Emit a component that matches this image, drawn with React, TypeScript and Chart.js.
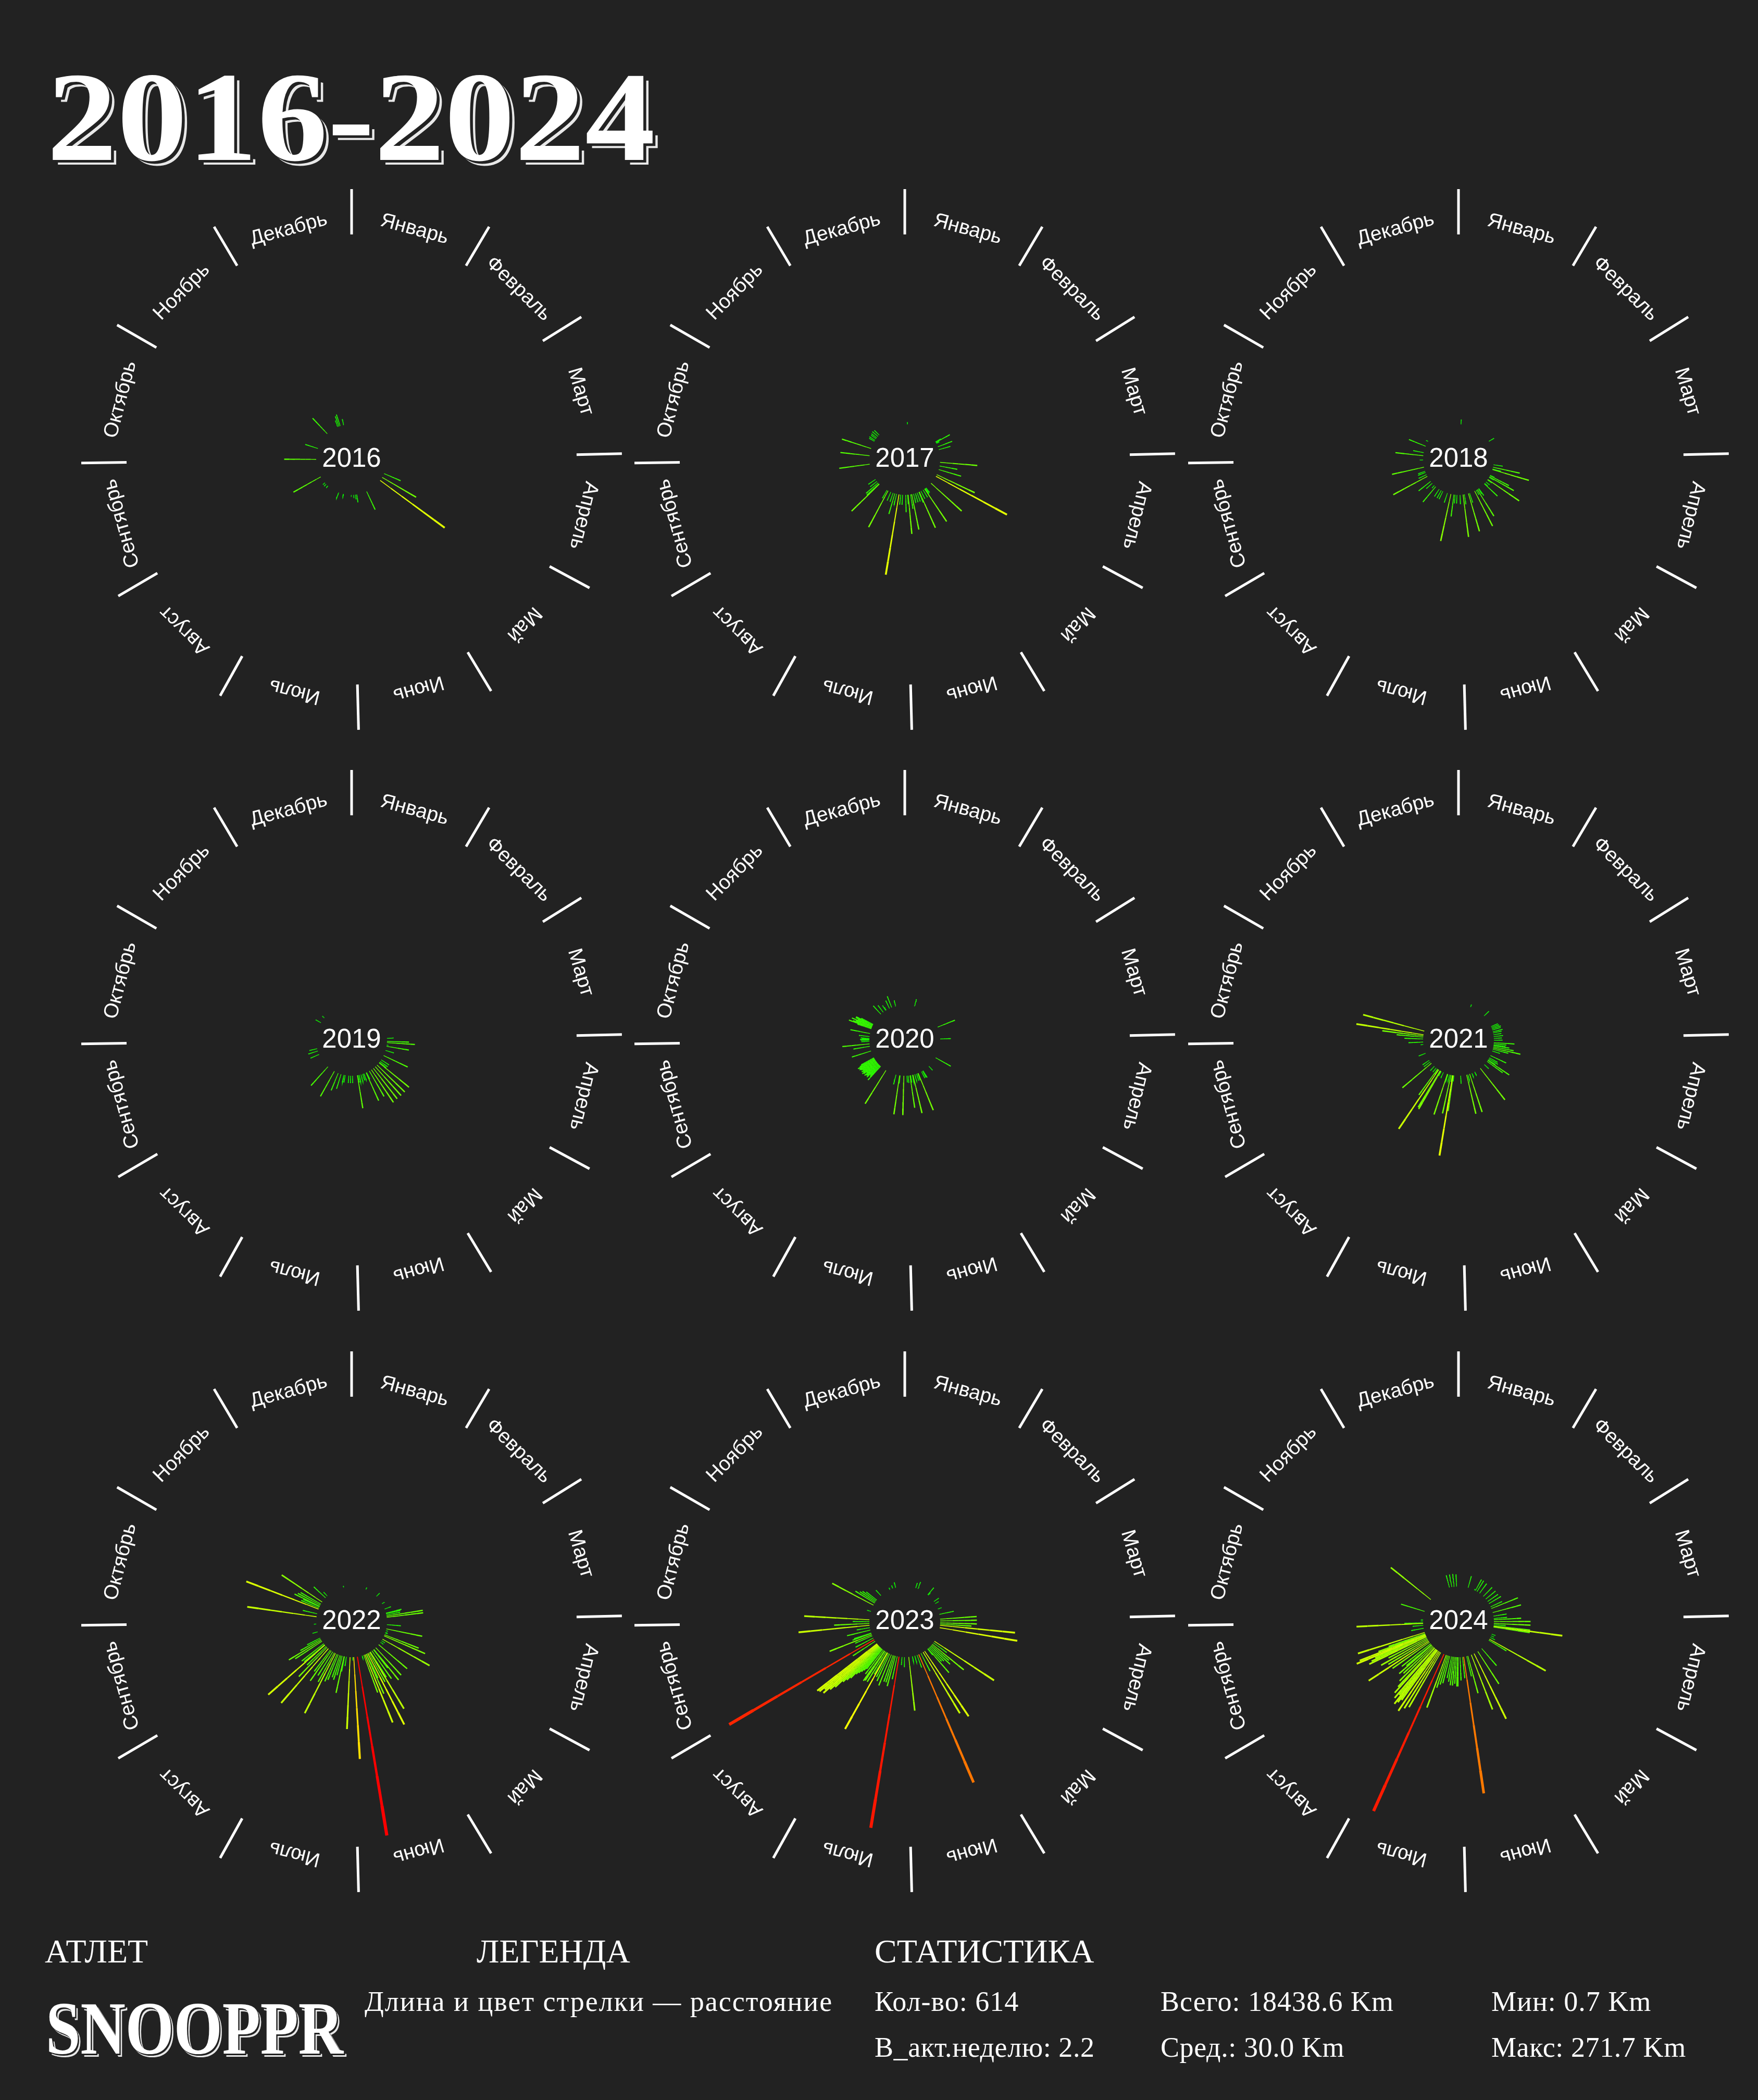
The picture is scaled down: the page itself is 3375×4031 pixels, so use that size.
import React, { useEffect, useRef } from "react";
import { Chart, registerables } from "chart.js";

Chart.register(...registerables);

// ---------- labels ----------
const MONTH_NAMES = ["Январь", "Февраль", "Март", "Апрель", "Май", "Июнь", "Июль", "Август", "Сентябрь", "Октябрь", "Ноябрь", "Декабрь"];
const MONTH_START_DAY = [0, 31, 59, 90, 120, 151, 181, 212, 243, 273, 304, 334, 365];
const YEARS = [2016, 2017, 2018, 2019, 2020, 2021, 2022, 2023, 2024];

// ---------- data: day of year / distance (km) ----------
const days2016 = [115, 122, 128, 157, 174, 176, 179, 183, 196, 204, 225, 229, 232, 244, 274, 292, 321, 342, 344, 346, 352];
const km2016 = [27, 59, 120, 30, 12, 7, 5, 3, 3, 9, 3, 4, 4, 47, 48, 20, 32, 10, 16, 18, 9];

const days2017 = [4, 61, 62, 63, 64, 70, 75, 96, 102, 108, 117, 120, 134, 145, 146, 147, 148, 151, 155, 158, 159, 162, 165, 168, 171, 173, 177, 178, 181, 186, 189, 192, 196, 199, 202, 206, 211, 213, 229, 230, 232, 235, 239, 266, 280, 292, 305, 307, 310, 312, 315, 318];
const km2017 = [3, 9, 24, 5, 5, 23, 18, 56, 27, 35, 63, 121, 62, 9, 8, 10, 59, 13, 13, 59, 17, 14, 14, 14, 54, 22, 59, 14, 26, 15, 15, 122, 17, 32, 14, 14, 62, 14, 58, 25, 24, 13, 13, 46, 44, 46, 9, 10, 9, 10, 11, 10];

const days2018 = [4, 60, 100, 104, 107, 108, 118, 119, 121, 122, 126, 127, 131, 134, 135, 147, 148, 150, 152, 155, 164, 166, 173, 175, 180, 185, 188, 190, 195, 201, 209, 212, 216, 223, 226, 231, 235, 245, 248, 252, 254, 261, 273, 280, 285, 296, 305];
const km2018 = [7, 9, 14, 41, 13, 57, 7, 32, 42, 8, 57, 8, 7, 6, 27, 13, 9, 47, 8, 59, 15, 59, 15, 64, 14, 13, 13, 33, 72, 15, 13, 13, 13, 30, 5, 12, 23, 58, 13, 12, 11, 49, 5, 42, 16, 27, 3];

const days2019 = [88, 93, 95, 99, 101, 108, 117, 125, 128, 130, 131, 136, 140, 144, 148, 152, 157, 158, 162, 164, 167, 170, 172, 173, 181, 184, 187, 193, 195, 200, 205, 212, 225, 250, 256, 260, 304, 314];
const km2019 = [10, 33, 42, 2, 34, 13, 40, 14, 14, 13, 58, 58, 58, 58, 59, 44, 11, 46, 10, 10, 11, 11, 11, 50, 11, 11, 11, 11, 11, 23, 28, 43, 38, 14, 15, 12, 9, 4];

const days2020 = [16, 69, 89, 121, 139, 151, 152, 154, 160, 161, 163, 166, 169, 170, 173, 174, 177, 179, 184, 190, 191, 197, 215, 226, 227, 228, 229, 230, 231, 232, 233, 234, 235, 236, 237, 238, 239, 240, 241, 242, 243, 244, 256, 264, 268, 272, 274, 275, 276, 277, 280, 285, 293, 294, 295, 296, 297, 298, 299, 300, 301, 322, 327, 332, 333, 339, 343, 350];
const km2020 = [11, 28, 16, 26, 8, 12, 11, 11, 60, 11, 11, 10, 59, 11, 11, 49, 11, 10, 59, 12, 59, 15, 59, 28, 22, 20, 26, 24, 25, 27, 22, 26, 28, 25, 27, 24, 26, 28, 27, 29, 25, 22, 30, 25, 41, 12, 13, 14, 11, 13, 16, 30, 22, 36, 30, 26, 33, 24, 28, 28, 20, 17, 13, 9, 5, 13, 18, 9];

const days2021 = [20, 47, 68, 70, 72, 74, 77, 79, 82, 85, 88, 91, 95, 97, 99, 100, 102, 104, 106, 109, 117, 121, 123, 125, 126, 128, 135, 144, 155, 160, 164, 167, 169, 179, 190, 191, 192, 193, 195, 197, 200, 201, 208, 212, 213, 214, 217, 218, 219, 222, 226, 233, 236, 239, 252, 267, 271, 276, 279, 281, 283, 289];
const km2021 = [4, 10, 11, 12, 14, 13, 15, 13, 12, 14, 12, 13, 31, 19, 18, 24, 31, 42, 24, 12, 26, 14, 16, 13, 39, 29, 9, 60, 6, 6, 60, 9, 60, 12, 9, 54, 122, 10, 59, 11, 10, 64, 9, 8, 66, 64, 107, 9, 48, 8, 9, 57, 12, 12, 11, 4, 22, 28, 40, 62, 102, 95];

const days2022 = [24, 45, 60, 70, 77, 78, 80, 82, 84, 96, 103, 106, 109, 110, 113, 115, 121, 124, 127, 132, 139, 143, 144, 147, 150, 151, 153, 155, 157, 158, 160, 162, 165, 173, 179, 181, 185, 191, 194, 195, 198, 200, 202, 205, 207, 210, 212, 215, 218, 220, 224, 227, 229, 232, 233, 235, 240, 242, 244, 246, 257, 270, 282, 287, 295, 297, 299, 300, 302, 304, 308, 317, 321, 352];
const km2022 = [3, 7, 4, 10, 24, 22, 21, 55, 55, 21, 55, 3, 3, 4, 55, 67, 81, 6, 5, 56, 56, 59, 35, 51, 45, 99, 50, 120, 40, 65, 110, 60, 4, 271.7, 153, 5, 108, 14, 23, 56, 30, 38, 35, 41, 45, 101, 50, 42, 55, 40, 108, 61, 40, 113, 40, 42, 48, 57, 35, 22, 8, 3, 105, 22, 116, 29, 27, 42, 38, 35, 73, 24, 8, 2];

const days2023 = [18, 22, 41, 42, 56, 60, 70, 79, 87, 90, 93, 95, 97, 101, 125, 128, 131, 133, 135, 137, 139, 141, 142, 148, 151, 155, 159, 162, 166, 170, 176, 183, 187, 192, 195, 198, 200, 202, 205, 208, 210, 212, 213, 215, 217, 218, 220, 222, 223, 224, 225, 226, 227, 228, 229, 230, 231, 232, 233, 234, 235, 240, 243, 246, 250, 252, 254, 255, 260, 264, 268, 271, 274, 277, 291, 302, 306, 308, 310, 312, 322, 340, 345, 350];
const km2023 = [8, 11, 14, 5, 9, 6, 6, 22, 55, 55, 55, 47, 113, 118, 107, 25, 61, 35, 40, 30, 28, 48, 12, 118, 107, 30, 209, 20, 10, 8, 81, 15, 12, 260, 35, 47, 42, 42, 50, 45, 40, 131, 38, 53, 53, 55, 45, 38, 42, 46, 50, 54, 64, 70, 76, 90, 98, 109, 104, 112, 114, 40, 252, 30, 28, 68, 30, 27, 36, 20, 107, 53, 25, 98, 6, 70, 34, 28, 25, 20, 11, 3, 5, 8];

const days2024 = [16, 27, 29, 32, 37, 45, 51, 56, 60, 66, 69, 76, 82, 86, 88, 91, 94, 96, 98, 99, 100, 112, 115, 118, 121, 123, 141, 149, 156, 161, 167, 169, 174, 176, 180, 183, 184, 186, 188, 190, 192, 194, 197, 199, 201, 203, 207, 213, 215, 217, 219, 220, 221, 222, 223, 225, 226, 228, 230, 232, 233, 235, 238, 240, 242, 244, 246, 248, 249, 250, 251, 252, 253, 254, 256, 263, 268, 271, 272, 275, 277, 291, 313, 350, 354, 358, 362];
const km2024 = [18, 2, 19, 19, 18, 19, 19, 19, 21, 19, 43, 44, 20, 20, 41, 55, 55, 18, 55, 104, 55, 6, 5, 8, 97, 31, 34, 58, 109, 88, 58, 31, 207, 32, 35, 44, 44, 40, 43, 43, 38, 33, 42, 45, 51, 84, 258, 95, 100, 108, 92, 98, 103, 88, 96, 90, 80, 72, 60, 65, 49, 55, 68, 108, 70, 80, 65, 95, 90, 83, 112, 106, 75, 58, 105, 19, 16, 100, 28, 3, 3, 37, 77, 19, 19, 19, 18];

const DAYS_BY_YEAR: Record<number, number[]> = { 2016: days2016, 2017: days2017, 2018: days2018, 2019: days2019, 2020: days2020, 2021: days2021, 2022: days2022, 2023: days2023, 2024: days2024 };
const KM_BY_YEAR: Record<number, number[]> = { 2016: km2016, 2017: km2017, 2018: km2018, 2019: km2019, 2020: km2020, 2021: km2021, 2022: km2022, 2023: km2023, 2024: km2024 };

// ---------- footer texts ----------
const STAT_LINES = [
  ["Кол-во: 614", "Всего: 18438.6 Km", "Мин: 0.7 Km"],
  ["В_акт.неделю: 2.2", "Сред.: 30.0 Km", "Макс: 271.7 Km"],
];

// ---------- geometry / style ----------
const SIZE = 1100;
const HALF = SIZE / 2;
const R_INNER = 68;
const PX_PER_KM = 1.28;
const TICK_IN = 432;
const TICK_OUT = 519;
const LABEL_R = 458;
const MAX_KM = 271.7;
const SEG = 6;
const COL_X = [675, 1737, 2800];
const ROW_Y = [882, 1997, 3113];
const BG = "#222222";

function kmColor(km: number) {
  const t = Math.min(km / MAX_KM, 1);
  let r: number, g: number;
  if (t < 0.5) { r = Math.round(510 * t); g = 255; }
  else { r = 255; g = Math.round(255 * (1 - (t - 0.5) * 2)); }
  return `rgb(${r},${g},0)`;
}

function polar(day: number, r: number) {
  const a = (day / 365) * 2 * Math.PI;
  return { x: r * Math.sin(a), y: r * Math.cos(a) };
}

function YearWheel({ year, cx, cy }: { year: number; cx: number; cy: number }) {
  const ref = useRef<HTMLCanvasElement>(null);
  useEffect(() => {
    const canvas = ref.current;
    if (!canvas) return;
    const days = DAYS_BY_YEAR[year];
    const kms = KM_BY_YEAR[year];
    const datasets: any[] = [];

    MONTH_START_DAY.slice(0, 12).forEach((d) => {
      datasets.push({
        data: [polar(d, TICK_IN), polar(d, TICK_OUT)],
        showLine: true,
        borderColor: "#ffffff",
        borderWidth: 5,
        pointRadius: 0,
        order: 1000,
      });
    });

    days.forEach((d, i) => {
      const km = kms[i];
      const pts = [];
      for (let s = 0; s <= SEG; s++) pts.push(polar(d, R_INNER + (PX_PER_KM * km * s) / SEG));
      const w0 = 1.2;
      const w1 = 1.6 + km / 60;
      datasets.push({
        data: pts,
        showLine: true,
        borderColor: kmColor(km),
        borderWidth: w1,
        pointRadius: 0,
        order: -km,
        segment: {
          borderWidth: (ctx: any) => w0 + ((w1 - w0) * (ctx.p0DataIndex + 1)) / SEG,
        },
      });
    });

    const textPlugin = {
      id: "wheelText",
      afterDatasetsDraw(chart: any) {
        const { ctx } = chart;
        const xs = chart.scales.x;
        const ys = chart.scales.y;
        ctx.save();
        ctx.fillStyle = "#ffffff";
        ctx.textAlign = "center";
        ctx.textBaseline = "middle";
        ctx.font = '39px "Liberation Sans", Arial, sans-serif';
        MONTH_NAMES.forEach((m, i) => {
          const mid = (MONTH_START_DAY[i] + MONTH_START_DAY[i + 1]) / 2;
          const p = polar(mid, LABEL_R);
          ctx.save();
          ctx.translate(xs.getPixelForValue(p.x), ys.getPixelForValue(p.y));
          ctx.rotate((mid / 365) * 2 * Math.PI);
          ctx.fillText(m, 0, 0);
          ctx.restore();
        });
        ctx.font = '51px "Liberation Sans", Arial, sans-serif';
        ctx.fillText(String(year), xs.getPixelForValue(0), ys.getPixelForValue(0));
        ctx.restore();
      },
    };

    const chart = new Chart(canvas, {
      type: "scatter",
      data: { datasets },
      options: {
        animation: false,
        responsive: false,
        devicePixelRatio: 1,
        events: [],
        layout: { padding: 0 },
        scales: {
          x: { type: "linear", min: -HALF, max: HALF, display: false },
          y: { type: "linear", min: -HALF, max: HALF, display: false },
        },
        plugins: { legend: { display: false }, tooltip: { enabled: false } },
        elements: { point: { radius: 0 } },
      } as any,
      plugins: [textPlugin],
    });
    return () => chart.destroy();
  }, [year]);

  return (
    <canvas
      ref={ref}
      width={SIZE}
      height={SIZE}
      style={{ position: "absolute", left: cx - HALF, top: cy - HALF, width: SIZE, height: SIZE }}
    />
  );
}

const serif = '"Liberation Serif", "DejaVu Serif", serif';

export default function App() {
  useEffect(() => {
    document.body.style.margin = "0";
    document.body.style.background = BG;
  }, []);

  const txt = (s: string, left: number, top: number, size: number, extra: any = {}) => (
    <div
      key={s}
      style={{
        position: "absolute",
        left,
        top,
        fontFamily: serif,
        fontSize: size,
        lineHeight: `${size}px`,
        color: "#ffffff",
        whiteSpace: "nowrap",
        ...extra,
      }}
    >
      {s}
    </div>
  );

  return (
    <div style={{ position: "absolute", left: 0, top: 0, width: 3375, height: 4031, background: BG, overflow: "hidden" }}>
      {txt("2016-2024", 90, 102, 245, {
        fontWeight: 700,
        transform: "scaleX(1.1)",
        transformOrigin: "left top",
        textShadow: "5px 5px 0 #222, 9px 9px 0 #e8e8e8",
      })}
      {YEARS.map((y, i) => (
        <YearWheel key={y} year={y} cx={COL_X[i % 3]} cy={ROW_Y[Math.floor(i / 3)]} />
      ))}
      {txt("АТЛЕТ", 86, 3714, 64)}
      {txt("ЛЕГЕНДА", 915, 3714, 64)}
      {txt("СТАТИСТИКА", 1679, 3714, 64)}
      {txt("SNOOPPR", 88, 3822, 144, {
        fontWeight: 700,
        transform: "scaleX(0.83)",
        transformOrigin: "left top",
        textShadow: "3px 3px 0 #222, 6px 6px 0 #e8e8e8",
      })}
      {txt("Длина и цвет стрелки — расстояние", 700, 3815, 54, { letterSpacing: "2px" })}
      {STAT_LINES[0].map((s, i) => txt(s, [1679, 2228, 2863][i], 3815, 54, { letterSpacing: "1px" }))}
      {STAT_LINES[1].map((s, i) => txt(s, [1679, 2228, 2863][i], 3903, 54, { letterSpacing: "0.6px" }))}
    </div>
  );
}
